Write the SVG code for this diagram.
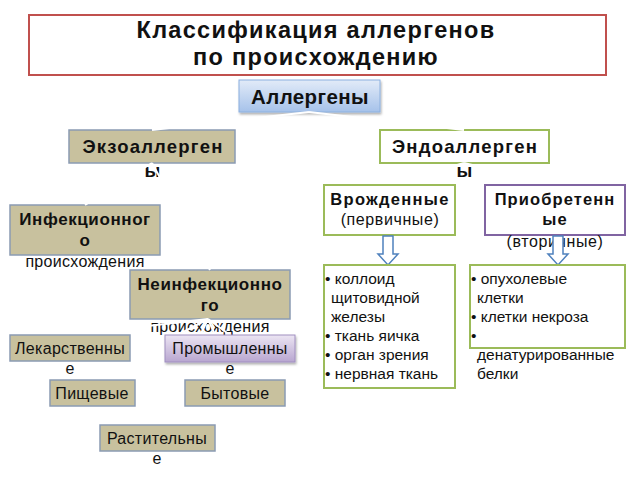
<svg xmlns="http://www.w3.org/2000/svg" width="640" height="480" viewBox="0 0 640 480">
<defs>
<linearGradient id="gBlue" x1="0" y1="0" x2="0" y2="1"><stop offset="0" stop-color="#e2ebf8"/><stop offset="1" stop-color="#a6c2ea"/></linearGradient>
<linearGradient id="gPurple" x1="0" y1="0" x2="0" y2="1"><stop offset="0" stop-color="#ece5f3"/><stop offset="1" stop-color="#b8a6d0"/></linearGradient>
<filter id="sh" x="-10%" y="-20%" width="120%" height="150%"><feDropShadow dx="1" dy="2" stdDeviation="1.2" flood-color="#000" flood-opacity="0.3"/></filter>
</defs>
<style>
text{font-family:"Liberation Sans",Arial,sans-serif;fill:#111;text-anchor:middle}
.tan{fill:#c8c19e;stroke:#8a9bb3;stroke-width:1.5}
.grn{fill:#fff;stroke:#9bbb59;stroke-width:2}
.pur{fill:#fff;stroke:#8064a2;stroke-width:2}
.b{font-weight:bold;font-size:17px;letter-spacing:0.6px}
.h{font-weight:bold;font-size:18.5px;letter-spacing:1.2px}
.r{font-size:16px;letter-spacing:0.3px}
.l{font-size:15.5px;text-anchor:start}
.t{font-size:23.5px;font-weight:bold;letter-spacing:1.3px}
.con line{stroke:#fff;stroke-width:2}
.arr{fill:#fff;stroke:#4f81bd;stroke-width:1.5}
</style>
<rect width="640" height="480" fill="#fff"/>
<g id="title">
<rect x="29" y="15" width="577" height="60" fill="#fff" stroke="#c0504d" stroke-width="2"/>
<text x="316" y="38" class="t">Классификация аллергенов</text>
<text x="316" y="65" class="t">по происхождению</text>
</g>
<g id="allergens">
<rect x="239" y="80" width="141" height="32" fill="url(#gBlue)" stroke="#8cb0df" stroke-width="1" filter="url(#sh)"/>
<text x="310" y="104" style="font-weight:bold;font-size:20.5px;letter-spacing:0.4px">Аллергены</text>
</g>
<g id="exo">
<rect x="69" y="130" width="166" height="33" class="tan"/>
<text x="153" y="153" class="h">Экзоаллерген</text>
<text x="153" y="177" class="h">ы</text>
</g>
<g id="endo">
<rect x="380" y="130" width="169" height="33" class="grn"/>
<text x="465" y="153" class="h">Эндоаллерген</text>
<text x="465" y="177" class="h">ы</text>
</g>
<g id="infect">
<rect x="10" y="205" width="150" height="50" class="tan"/>
<text x="85" y="225" class="b">Инфекционног</text>
<text x="85" y="246" class="b">о</text>
<text x="85" y="267" class="r">происхождения</text>
</g>
<g id="noninfect">
<rect x="130" y="270" width="160" height="49" class="tan"/>
<text x="210" y="290" class="b">Неинфекционно</text>
<text x="210" y="311" class="b">го</text>
<text x="210" y="332" class="r">происхождения</text>
</g>
<g class="con" id="connectors">
<line x1="309" y1="112" x2="152" y2="130"/>
<line x1="309" y1="112" x2="464" y2="130"/>
<line x1="152" y1="163" x2="85" y2="205"/>
<line x1="152" y1="163" x2="210" y2="270"/>
<line x1="464" y1="163" x2="389" y2="185"/>
<line x1="464" y1="163" x2="555" y2="185"/>
<line x1="208" y1="319" x2="70" y2="335"/>
<line x1="208" y1="319" x2="92" y2="380"/>
<line x1="208" y1="319" x2="157" y2="425"/>
<line x1="208" y1="319" x2="235" y2="380"/>
<line x1="208" y1="319" x2="230" y2="335"/>
</g>
<g id="drug">
<rect x="10" y="335" width="120" height="26" class="tan"/>
<text x="70" y="354" class="r">Лекарственны</text>
<text x="70" y="374" class="r">е</text>
</g>
<g id="industrial">
<rect x="165" y="335" width="130" height="27" fill="url(#gPurple)" stroke="#a08fc0" stroke-width="1" filter="url(#sh)"/>
<text x="230" y="354" class="r">Промышленны</text>
<text x="230" y="374" class="r">е</text>
</g>
<g id="food">
<rect x="50" y="380" width="85" height="26" class="tan"/>
<text x="92" y="399" class="r">Пищевые</text>
</g>
<g id="household">
<rect x="185" y="380" width="100" height="26" class="tan"/>
<text x="235" y="399" class="r">Бытовые</text>
</g>
<g id="plant">
<rect x="100" y="425" width="115" height="26" class="tan"/>
<text x="157" y="444" class="r">Растительны</text>
<text x="157" y="464" class="r">е</text>
</g>
<g id="innate">
<rect x="324" y="185" width="131" height="50" class="grn"/>
<text x="390" y="205" class="b" style="font-size:16.5px;letter-spacing:1.3px">Врожденные</text>
<text x="390" y="225" class="r" style="letter-spacing:0.6px">(первичные)</text>
</g>
<g id="acquired">
<rect x="485" y="185" width="140" height="50" class="pur"/>
<text x="555" y="205" class="b" style="font-size:16.5px;letter-spacing:1.1px">Приобретенн</text>
<text x="555" y="225" class="b" style="font-size:16.5px;letter-spacing:1.1px">ые</text>
<text x="555" y="247" class="r" style="letter-spacing:0.6px">(вторичные)</text>
</g>
<g id="arrow1"><path class="arr" d="M383,236 H393 V254 H398 L388,265 L378,254 H383 Z"/></g>
<g id="arrow2"><path class="arr" d="M553,236 H563 V254 H568 L558,265 L548,254 H553 Z"/></g>
<g id="innate-list">
<rect x="324" y="265" width="131" height="123" class="grn"/>
<text x="325" y="284" class="l">• коллоид</text>
<text x="331" y="303" class="l">щитовидной</text>
<text x="331" y="322" class="l">железы</text>
<text x="325" y="341" class="l">• ткань яичка</text>
<text x="325" y="360" class="l">• орган зрения</text>
<text x="325" y="379" class="l">• нервная ткань</text>
</g>
<g id="acquired-list">
<rect x="470" y="265" width="155" height="83" class="grn"/>
<text x="471" y="284" class="l">• опухолевые</text>
<text x="477" y="303" class="l">клетки</text>
<text x="471" y="322" class="l">• клетки некроза</text>
<text x="471" y="341" class="l">•</text>
<text x="477" y="360" class="l">денатурированные</text>
<text x="477" y="379" class="l">белки</text>
</g>
</svg>
